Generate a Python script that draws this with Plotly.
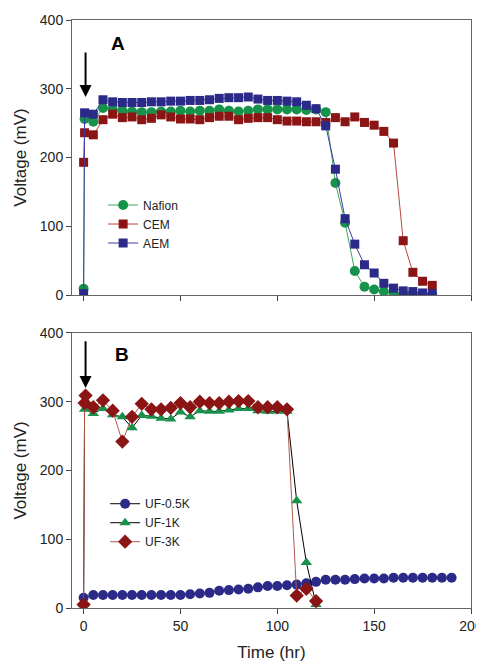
import plotly.graph_objects as go

# panel A - membranes
t_a = [0, 0.5] + list(range(5, 185, 5))
nafion = [9, 256, 252, 272, 270, 268, 267, 266, 266, 267, 267, 268, 267, 268, 268, 270,
          268, 267, 268, 270, 270, 270, 270, 270, 269, 270, 266, 163, 105, 35, 12, 8, 5,
          2, 1, 1, 1, 1]
cem = [193, 236, 233, 255, 263, 258, 259, 255, 257, 262, 259, 256, 256, 255, 258, 260,
       260, 255, 257, 258, 258, 255, 253, 253, 252, 252, 251, 258, 252, 259, 251, 247,
       238, 221, 79, 33, 20, 14]
aem = [2, 265, 263, 284, 281, 280, 280, 280, 281, 281, 282, 282, 283, 283, 284, 286,
       287, 287, 288, 285, 283, 283, 282, 281, 276, 271, 246, 183, 111, 74, 44, 32, 17,
       10, 6, 5, 3, 2]

# panel B - ultrafiltration membranes
t_05k = list(range(0, 195, 5))
uf_05k = [15, 19, 19, 19, 19, 19, 19, 19, 19, 19, 19, 20, 21, 22, 25, 26, 27, 28, 30, 32,
          32, 33, 34, 36, 38, 41, 41, 41, 42, 43, 43, 43, 44, 44, 44, 44, 44, 44, 44]
t_1k = [0, 0.5] + list(range(5, 125, 5))
uf_1k = [5, 289, 283, 290, 281, 278, 262, 280, 279, 276, 275, 285, 278, 287, 286, 286,
         288, 290, 290, 287, 286, 286, 286, 156, 66, 5]
t_3k = [0, 0.5, 1] + list(range(5, 125, 5))
uf_3k = [5, 298, 309, 292, 302, 287, 242, 278, 297, 289, 289, 291, 298, 292, 300, 298,
         298, 300, 301, 301, 292, 292, 292, 289, 18, 28, 10]

green = '#17924a'
red = '#8b1414'
navy = '#2b2a88'
fnt = 'Liberation Sans, Arial, sans-serif'

fig = go.Figure()

fig.add_trace(go.Scatter(x=t_a, y=nafion, name='Nafion', mode='lines+markers',
                         line={'color': '#3da95e', 'width': 1},
                         marker={'color': green, 'size': 10, 'symbol': 'circle'},
                         xaxis='x', yaxis='y', legend='legend'))
fig.add_trace(go.Scatter(x=t_a, y=cem, name='CEM', mode='lines+markers',
                         line={'color': '#b4473c', 'width': 1},
                         marker={'color': red, 'size': 9, 'symbol': 'square'},
                         xaxis='x', yaxis='y', legend='legend'))
fig.add_trace(go.Scatter(x=t_a, y=aem, name='AEM', mode='lines+markers',
                         line={'color': '#3c3ca6', 'width': 1},
                         marker={'color': navy, 'size': 9, 'symbol': 'square'},
                         xaxis='x', yaxis='y', legend='legend'))

fig.add_trace(go.Scatter(x=t_05k, y=uf_05k, name='UF-0.5K', mode='lines+markers',
                         line={'color': 'black', 'width': 1},
                         marker={'color': navy, 'size': 10, 'symbol': 'circle'},
                         xaxis='x2', yaxis='y2', legend='legend2'))
fig.add_trace(go.Scatter(x=t_1k, y=uf_1k, name='UF-1K', mode='lines+markers',
                         line={'color': 'black', 'width': 1},
                         marker={'color': green, 'size': 10, 'symbol': 'triangle-up'},
                         xaxis='x2', yaxis='y2', legend='legend2'))
fig.add_trace(go.Scatter(x=t_3k, y=uf_3k, name='UF-3K', mode='lines+markers',
                         line={'color': '#b05a48', 'width': 1},
                         marker={'color': red, 'size': 11, 'symbol': 'diamond'},
                         xaxis='x2', yaxis='y2', legend='legend2'))

ax_style = dict(showline=True, linecolor='#666', linewidth=1, mirror=True,
                ticks='outside', ticklen=5, tickcolor='#444', showgrid=False,
                zeroline=False, automargin=False,
                tickfont={'size': 14, 'color': '#222', 'family': fnt})

# page body has an 8px margin, so the figure is 8px smaller each way
fig.update_layout(
    width=476, height=654,
    margin=dict(l=64, r=13, t=12, b=54),
    paper_bgcolor='white', plot_bgcolor='white',
    font={'family': fnt, 'color': '#222'},
    xaxis=dict(domain=[0, 1], anchor='y', range=[-6, 200], dtick=50,
               showticklabels=False, **ax_style),
    yaxis=dict(domain=[0.5323, 1], anchor='x', range=[0, 400], dtick=100,
               title={'text': 'Voltage (mV)', 'font': {'size': 17}, 'standoff': 8},
               **ax_style),
    xaxis2=dict(domain=[0, 1], anchor='y2', range=[-6, 200], dtick=50,
                title={'text': 'Time (hr)', 'font': {'size': 17}, 'standoff': 13},
                **ax_style),
    yaxis2=dict(domain=[0, 0.4677], anchor='x2', range=[0, 400], dtick=100,
                title={'text': 'Voltage (mV)', 'font': {'size': 17}, 'standoff': 8},
                **ax_style),
    legend=dict(x=0.078, y=0.71, xanchor='left', yanchor='top',
                bgcolor='rgba(0,0,0,0)', font={'size': 12}, tracegroupgap=0),
    legend2=dict(x=0.083, y=0.202, xanchor='left', yanchor='top',
                 bgcolor='rgba(0,0,0,0)', font={'size': 12}, tracegroupgap=0),
    showlegend=True,
)

# arrows and panel letters
for xr, yr, y0, y1 in [('x', 'y', 288, 355), ('x2', 'y2', 320, 390)]:
    fig.add_annotation(x=1, y=y0, ax=1, ay=y1, xref=xr, yref=yr, axref=xr, ayref=yr,
                       showarrow=True, arrowhead=2, arrowsize=1.2, arrowwidth=2,
                       arrowcolor='black', text='')
fig.add_annotation(x=18, y=366, xref='x', yref='y', text='<b>A</b>', showarrow=False,
                   font={'size': 19, 'color': 'black'})
fig.add_annotation(x=20, y=368, xref='x2', yref='y2', text='<b>B</b>', showarrow=False,
                   font={'size': 19, 'color': 'black'})

fig.write_html("out.html")
